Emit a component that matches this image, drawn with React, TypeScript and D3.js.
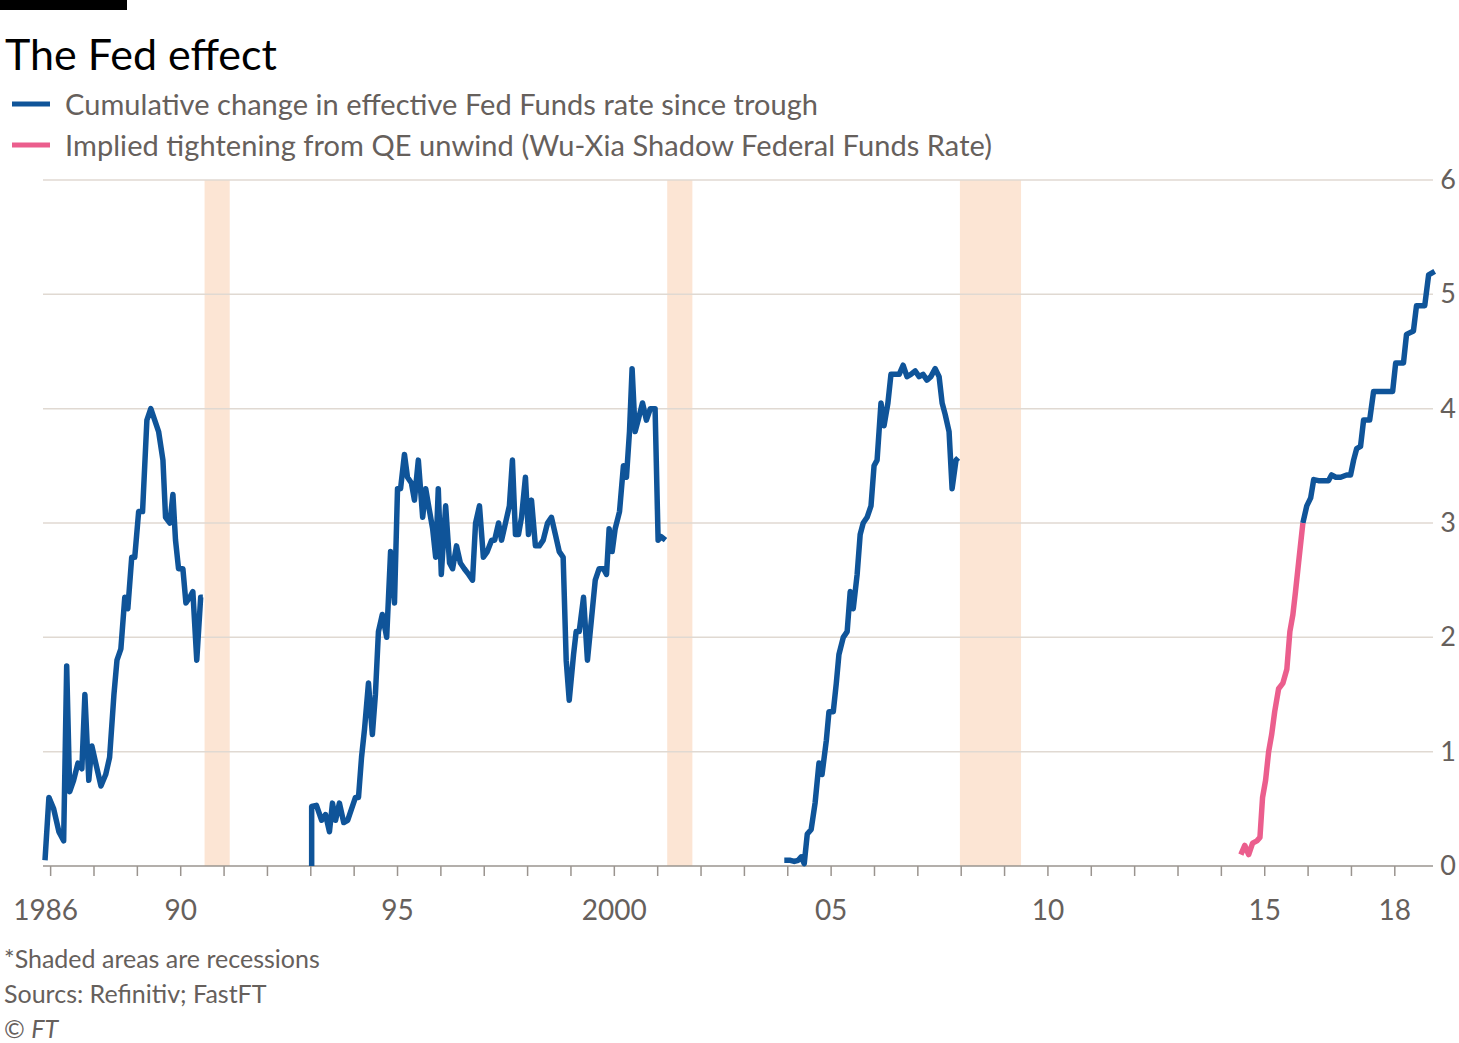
import * as d3 from 'd3';

type Pt = [number, number];

const fedFunds1: Pt[] = [
  [1986.87, 0.05], [1986.96, 0.6], [1987.07, 0.5], [1987.19, 0.3], [1987.3, 0.22], [1987.37, 1.75],
  [1987.44, 0.65], [1987.53, 0.75], [1987.63, 0.9], [1987.72, 0.85], [1987.79, 1.5], [1987.88, 0.75],
  [1987.95, 1.05], [1988.04, 0.9], [1988.16, 0.7], [1988.27, 0.8], [1988.36, 0.95], [1988.46, 1.5],
  [1988.53, 1.8], [1988.62, 1.9], [1988.71, 2.35], [1988.78, 2.25], [1988.87, 2.7], [1988.94, 2.7],
  [1989.03, 3.1], [1989.12, 3.1], [1989.22, 3.9], [1989.31, 4.0], [1989.4, 3.9], [1989.49, 3.8],
  [1989.59, 3.55], [1989.65, 3.05], [1989.75, 3.0], [1989.82, 3.25], [1989.88, 2.85], [1989.95, 2.6],
  [1990.05, 2.6], [1990.12, 2.3], [1990.21, 2.35], [1990.28, 2.4], [1990.37, 1.8], [1990.46, 2.35],
  [1990.51, 2.35],
];

const fedFunds2: Pt[] = [
  [1993.02, 0], [1993.02, 0.52], [1993.13, 0.53], [1993.25, 0.4], [1993.34, 0.45], [1993.43, 0.3],
  [1993.5, 0.55], [1993.57, 0.4], [1993.66, 0.55], [1993.76, 0.38], [1993.85, 0.4], [1993.94, 0.5],
  [1994.03, 0.6], [1994.1, 0.6], [1994.17, 0.95], [1994.24, 1.2], [1994.33, 1.6], [1994.42, 1.15],
  [1994.49, 1.5], [1994.56, 2.05], [1994.65, 2.2], [1994.75, 2.0], [1994.84, 2.75], [1994.93, 2.3],
  [1995.0, 3.3], [1995.07, 3.3], [1995.16, 3.6], [1995.23, 3.4], [1995.32, 3.35], [1995.39, 3.2],
  [1995.48, 3.55], [1995.58, 3.05], [1995.65, 3.3], [1995.74, 3.1], [1995.81, 2.95], [1995.88, 2.7],
  [1995.94, 3.3], [1996.01, 2.55], [1996.11, 3.15], [1996.2, 2.65], [1996.27, 2.6], [1996.36, 2.8],
  [1996.45, 2.65], [1996.54, 2.6], [1996.64, 2.55], [1996.73, 2.5], [1996.8, 3.0], [1996.89, 3.15],
  [1996.98, 2.7], [1997.07, 2.75], [1997.17, 2.85], [1997.24, 2.85], [1997.33, 3.0], [1997.4, 2.85],
  [1997.49, 3.0], [1997.58, 3.15], [1997.65, 3.55], [1997.72, 2.9], [1997.79, 2.9], [1997.86, 3.05],
  [1997.95, 3.4], [1998.02, 2.9], [1998.09, 3.2], [1998.18, 2.8], [1998.27, 2.8], [1998.36, 2.85],
  [1998.46, 3.0], [1998.55, 3.05], [1998.64, 2.9], [1998.73, 2.75], [1998.82, 2.7], [1998.89, 1.8],
  [1998.96, 1.45], [1999.06, 1.85], [1999.12, 2.05], [1999.19, 2.05], [1999.29, 2.35], [1999.38, 1.8],
  [1999.47, 2.15], [1999.56, 2.5], [1999.65, 2.6], [1999.75, 2.6], [1999.82, 2.55], [1999.88, 2.95],
  [1999.95, 2.75], [2000.02, 2.95], [2000.12, 3.1], [2000.21, 3.5], [2000.28, 3.4], [2000.35, 3.8],
  [2000.41, 4.35], [2000.48, 3.8], [2000.55, 3.9], [2000.65, 4.05], [2000.74, 3.9], [2000.83, 4.0],
  [2000.94, 4.0], [2001.01, 2.85], [2001.08, 2.88], [2001.18, 2.85],
];

const fedFunds3: Pt[] = [
  [2003.92, 0.05], [2004.06, 0.05], [2004.15, 0.04], [2004.24, 0.05], [2004.31, 0.08], [2004.38, 0.02],
  [2004.45, 0.28], [2004.54, 0.32], [2004.63, 0.55], [2004.72, 0.9], [2004.79, 0.8], [2004.89, 1.1],
  [2004.95, 1.35], [2005.05, 1.35], [2005.12, 1.6], [2005.18, 1.85], [2005.28, 2.0], [2005.37, 2.05],
  [2005.44, 2.4], [2005.51, 2.25], [2005.6, 2.55], [2005.67, 2.9], [2005.74, 3.0], [2005.83, 3.05],
  [2005.92, 3.15], [2005.99, 3.5], [2006.06, 3.55], [2006.15, 4.05], [2006.22, 3.85], [2006.31, 4.05],
  [2006.38, 4.3], [2006.47, 4.3], [2006.57, 4.3], [2006.66, 4.38], [2006.75, 4.28], [2006.84, 4.3],
  [2006.94, 4.33], [2007.03, 4.28], [2007.12, 4.3], [2007.21, 4.25], [2007.3, 4.28], [2007.4, 4.35],
  [2007.49, 4.28], [2007.56, 4.05], [2007.63, 3.95], [2007.72, 3.8], [2007.79, 3.3], [2007.88, 3.55],
  [2007.93, 3.57],
];

const fedFunds4: Pt[] = [
  [2015.88, 3.0], [2015.97, 3.15], [2016.06, 3.22], [2016.13, 3.38], [2016.24, 3.37], [2016.38, 3.37],
  [2016.47, 3.37], [2016.54, 3.42], [2016.64, 3.4], [2016.75, 3.4], [2016.89, 3.42], [2016.98, 3.42],
  [2017.05, 3.55], [2017.12, 3.65], [2017.21, 3.67], [2017.28, 3.9], [2017.42, 3.9], [2017.51, 4.15],
  [2017.65, 4.15], [2017.79, 4.15], [2017.95, 4.15], [2018.02, 4.4], [2018.2, 4.4], [2018.27, 4.65],
  [2018.43, 4.68], [2018.5, 4.9], [2018.69, 4.9], [2018.78, 5.17], [2018.92, 5.2],
];

const shadowRate: Pt[] = [
  [2014.45, 0.1], [2014.54, 0.18], [2014.63, 0.1], [2014.72, 0.2], [2014.82, 0.22], [2014.89, 0.25],
  [2014.95, 0.6], [2015.02, 0.75], [2015.09, 1.0], [2015.16, 1.15], [2015.23, 1.35], [2015.32, 1.55],
  [2015.42, 1.6], [2015.51, 1.72], [2015.58, 2.05], [2015.65, 2.2], [2015.71, 2.4], [2015.78, 2.65],
  [2015.88, 3.0],
];

const recessions: [number, number][] = [[1990.55, 1991.13], [2001.22, 2001.8], [2007.97, 2009.38]];
const xTickValues = [1987, 1990, 1995, 2000, 2005, 2010, 2015, 2018];
const xTickLabels = ['1986', '90', '95', '2000', '05', '10', '15', '18'];
const yTicks = [0, 1, 2, 3, 4, 5, 6];

const W = 1459, H = 1043;
const font = 'Lato, "Open Sans", sans-serif';
const grey = '#66605c';
const blue = '#0f5499';
const pink = '#eb5e8d';

export default function App() {
  const x = d3.scaleLinear().domain([1986.87, 2018.95]).range([45, 1436]);
  const y = d3.scaleLinear().domain([0, 6]).range([866, 180]);
  const line = d3.line<Pt>().x(d => x(d[0])).y(d => y(d[1]));
  const minor = d3.range(1987, 2019);

  return (
    <svg width={W} height={H} style={{ position: 'absolute', left: 0, top: 0, background: '#fff' }} fontFamily={font}>
      <rect x={0} y={0} width={127} height={10} fill="#000" />
      <text x={5} y={70} fontSize={43} fill="#000">The Fed effect</text>
      <line x1={12} x2={50} y1={104} y2={104} stroke={blue} strokeWidth={5} />
      <text x={65} y={115} fontSize={29} fill={grey} textLength={753}>Cumulative change in effective Fed Funds rate since trough</text>
      <line x1={12} x2={50} y1={145} y2={145} stroke={pink} strokeWidth={5} />
      <text x={65} y={156} fontSize={29} fill={grey} textLength={927}>Implied tightening from QE unwind (Wu-Xia Shadow Federal Funds Rate)</text>

      {recessions.map(([a, b], i) => (
        <rect key={i} x={x(a)} y={y(6)} width={x(b) - x(a)} height={y(0) - y(6)} fill="#fce5d4" />
      ))}
      {yTicks.map(t => (
        <g key={t}>
          {t > 0 && <line x1={43} x2={1433} y1={y(t)} y2={y(t)} stroke="#e0d9d2" strokeWidth={1.5} />}
          <text x={1448} y={y(t) + 9} fontSize={27} fill={grey} textAnchor="middle">{t}</text>
        </g>
      ))}
      <line x1={43} x2={1433} y1={y(0)} y2={y(0)} stroke="#9a948f" strokeWidth={1.5} />
      {minor.map(t => (
        <line key={t} x1={x(t)} x2={x(t)} y1={y(0)} y2={y(0) + 10} stroke="#9a948f" strokeWidth={1.5} />
      ))}
      {xTickValues.map((t, i) => (
        <text key={t} x={x(t) - (i === 0 ? 5 : 0)} y={920} fontSize={28} fill={grey} textAnchor="middle">{xTickLabels[i]}</text>
      ))}

      {[fedFunds1, fedFunds2, fedFunds3, fedFunds4].map((s, i) => (
        <path key={i} d={line(s) ?? ''} fill="none" stroke={blue} strokeWidth={5.5} strokeLinejoin="round" />
      ))}
      <path d={line(shadowRate) ?? ''} fill="none" stroke={pink} strokeWidth={5.5} strokeLinejoin="round" />

      <text x={4} y={968} fontSize={25} fill={grey}>*Shaded areas are recessions</text>
      <text x={4} y={1003} fontSize={25} fill={grey}>Sourcs: Refinitiv; FastFT</text>
      <text x={4} y={1038} fontSize={25} fill={grey}>© <tspan fontStyle="italic">FT</tspan></text>
    </svg>
  );
}
